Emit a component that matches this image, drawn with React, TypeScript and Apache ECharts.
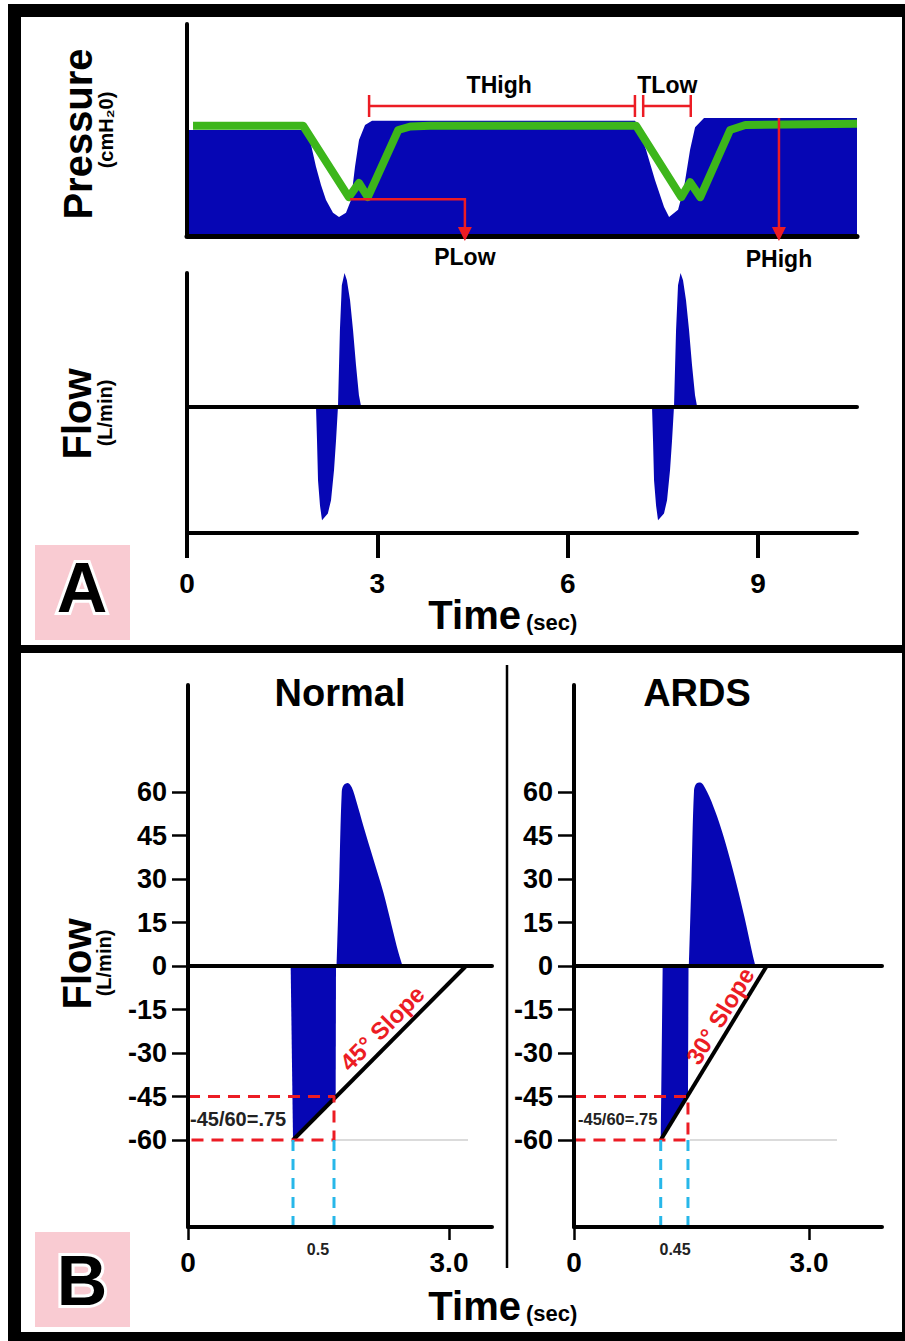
import React, { useEffect, useRef } from "react";
import * as echarts from "echarts";

const FONT = '"Liberation Sans", Arial, Helvetica, sans-serif';
const BLUE = "#0606b4";
const GREEN = "#3db61b";
const RED = "#ec1c24";
const CYAN = "#27b7e9";
const PINK = "#f9cbd2";

// ---------- Panel A data (time in sec) ----------
const timeTicksA = [0, 3, 6, 9];
const timeMaxA = 10.56;
const pressureMax = 30;
const flowMinA = -57;
const flowMaxA = 60;

const pressureBlue: number[][] = [
  [0, 15.0], [1.876, 15.0], [1.955, 12.9], [2.033, 9.8], [2.112, 7.2], [2.191, 5.1],
  [2.301, 3.3], [2.396, 2.7], [2.506, 3.3], [2.585, 5.1], [2.648, 9.8], [2.711, 13.6],
  [2.806, 15.7], [2.916, 16.3], [7.06, 16.3], [7.077, 16.1], [7.235, 12.2], [7.377, 7.9],
  [7.519, 4.1], [7.598, 2.7], [7.74, 3.7], [7.834, 6.9], [7.929, 12.2], [8.008, 15.4],
  [8.149, 16.7], [10.56, 16.7],
];

const pressureGreen: number[][] = [
  [0.095, 15.6], [1.83, 15.6], [2.55, 5.5], [2.71, 7.5], [2.85, 5.5], [3.33, 15.0],
  [3.52, 15.5], [3.83, 15.6], [7.08, 15.6], [7.79, 5.5], [7.93, 7.6], [8.09, 5.5],
  [8.56, 15.0], [8.8, 15.7], [10.56, 15.9],
];

const flowA: number[][] = [
  [0, 0], [2.033, 0], [2.049, -15.3], [2.065, -33.3], [2.096, -44.6], [2.128, -51.3],
  [2.22, -48.2], [2.27, -42.3], [2.317, -28.8], [2.349, -15.3], [2.38, 0], [2.41, 34.2],
  [2.44, 54.5], [2.483, 60], [2.52, 56.7], [2.57, 47.7], [2.617, 34.2], [2.664, 18.5],
  [2.71, 5], [2.743, 0], [7.329, 0], [7.345, -15.3], [7.361, -33.3], [7.393, -44.6],
  [7.424, -51.3], [7.518, -48.2], [7.566, -42.3], [7.613, -28.8], [7.645, -15.3],
  [7.676, 0], [7.708, 34.2], [7.739, 54.5], [7.779, 60], [7.818, 56.7], [7.865, 47.7],
  [7.913, 34.2], [7.96, 18.5], [8.007, 5], [8.039, 0], [10.56, 0],
];

// annotations panel A
const tHighSpan = [2.87, 7.06];
const tLowSpan = [7.19, 7.94];
const bracketLevel = 18.4;
const bracketTickTop = 19.95;
const bracketTickBottom = 16.84;
const tHighLabel = [4.92, 21.4];
const tLowLabel = [7.57, 21.4];
const pLowPath: number[][] = [[2.57, 5.2], [4.38, 5.2], [4.38, -0.7]];
const pHighPath: number[][] = [[9.33, 16.7], [9.33, -0.7]];

// ---------- Panel B data ----------
const flowTicksB = [-60, -45, -30, -15, 0, 15, 30, 45, 60];
const timeTicksB = [0, 3];
const flowMinB = -90;
const flowMaxB = 96.9;
const normalTimeMax = 3.494;
const ardsTimeMax = 3.932;

const normalNeg: number[][] = [[1.18, 0], [1.207, -60], [1.697, -45.2], [1.701, 0]];
const normalPos: number[][] = [
  [1.709, 0], [1.738, 30], [1.767, 59.9], [1.785, 62.2], [1.836, 63.1], [1.882, 61.6],
  [1.939, 56.4], [2.015, 48.4], [2.13, 36.9], [2.245, 25.4], [2.341, 13.9], [2.417, 4.8],
  [2.466, 0],
];
const normalSlope: number[][] = [[1.207, -60], [3.195, 0]];
const normalGray: number[][] = [[1.69, -60], [3.218, -60]];
const normalRed: number[][] = [[0, -45], [1.678, -45], [1.678, -60], [0, -60]];
const normalCyan = [1.207, 1.678];
const normalIntervalLabel = "0.5";
const normalIntervalAt = 1.494;
const normalSlopeLabel = { text: "45° Slope", at: [2.23, -21.4] };

const ardsNeg: number[][] = [[1.132, 0], [1.107, -60], [1.455, -44.6], [1.462, 0]];
const ardsPos: number[][] = [
  [1.468, 0], [1.5, 30], [1.532, 60.4], [1.558, 62.8], [1.609, 63.3], [1.7, 60.0],
  [1.8, 53.5], [1.9, 45.5], [2.0, 36.0], [2.1, 25.5], [2.2, 14.0], [2.28, 4.0],
  [2.317, 0],
];
const ardsSlope: number[][] = [[1.107, -60], [2.46, 0]];
const ardsGray: number[][] = [[1.481, -60], [3.357, -60]];
const ardsRed: number[][] = [[0, -45], [1.455, -45], [1.455, -60], [0, -60]];
const ardsCyan = [1.107, 1.455];
const ardsIntervalLabel = "0.45";
const ardsIntervalAt = 1.29;
const ardsSlopeLabel = { text: "30° Slope", at: [1.864, -17.2] };
const ratioText = "-45/60=.75";
const ratioAt = -52.8;

const bold = (size: number) => ({
  fontFamily: FONT,
  fontWeight: "bold" as const,
  fontSize: size,
  color: "#000",
});

function blackLine(w: number, onZero = false) {
  return { show: true, onZero, lineStyle: { color: "#000", width: w } };
}

function plainX(grid: number, max: number, w: number, onZero: boolean) {
  return {
    type: "value",
    gridIndex: grid,
    min: 0,
    max,
    z: 5,
    axisLine: blackLine(w, onZero),
    axisTick: { show: false },
    axisLabel: { show: false },
    splitLine: { show: false },
  };
}

function tickX(grid: number, max: number, ticks: number[], tickLen: number, tickW: number, margin: number, fmt: (v: number) => string) {
  return {
    type: "value",
    gridIndex: grid,
    position: "bottom",
    min: 0,
    max,
    z: 5,
    axisLine: blackLine(4, false),
    axisTick: { show: true, customValues: ticks, length: tickLen, lineStyle: { color: "#000", width: tickW } },
    axisLabel: { show: true, customValues: ticks, margin, verticalAlign: "middle", formatter: fmt, ...bold(28) },
    splitLine: { show: false },
  };
}

function plainY(grid: number, min: number, max: number) {
  return {
    type: "value",
    gridIndex: grid,
    min,
    max,
    z: 5,
    axisLine: blackLine(4, false),
    axisTick: { show: false },
    axisLabel: { show: false },
    splitLine: { show: false },
  };
}

function tickY(grid: number) {
  return {
    type: "value",
    gridIndex: grid,
    min: flowMinB,
    max: flowMaxB,
    z: 5,
    axisLine: blackLine(4, false),
    axisTick: { show: true, customValues: flowTicksB, length: 16, lineStyle: { color: "#000", width: 2.5 } },
    axisLabel: { show: true, customValues: flowTicksB, margin: 21, ...bold(27) },
    splitLine: { show: false },
  };
}

function area(data: number[][], xi: number, yi: number, smooth: number | boolean = false) {
  return {
    type: "line",
    xAxisIndex: xi,
    yAxisIndex: yi,
    data,
    smooth,
    symbol: "none",
    silent: true,
    z: 2,
    lineStyle: { width: 0, color: BLUE },
    areaStyle: { color: BLUE, opacity: 1 },
  };
}

function stroke(data: number[][], xi: number, yi: number, color: string, width: number, dash?: number[], z = 3) {
  return {
    type: "line",
    xAxisIndex: xi,
    yAxisIndex: yi,
    data,
    symbol: "none",
    silent: true,
    z,
    lineStyle: { width, color, type: dash ? dash : "solid", cap: "butt", join: "round" },
  };
}

function buildOption() {
  const fmtB = (v: number) => (v === 0 ? "0" : v.toFixed(1));
  const series: any[] = [
    area(pressureBlue, 0, 0),
    stroke(pressureGreen, 0, 0, GREEN, 8, undefined, 3),
    area(flowA, 1, 1),
    area(normalNeg, 3, 2),
    area(normalPos, 3, 2, 0.35),
    stroke(normalGray, 3, 2, "#cfcfcf", 1.5, undefined, 2),
    stroke(normalSlope, 3, 2, "#000", 4, undefined, 3),
    stroke(normalRed, 3, 2, RED, 3, [12, 8], 4),
    ...normalCyan.map((t) => stroke([[t, -60], [t, flowMinB]], 3, 2, CYAN, 3, [11, 8], 4)),
    area(ardsNeg, 5, 3),
    area(ardsPos, 5, 3, 0.35),
    stroke(ardsGray, 5, 3, "#cfcfcf", 1.5, undefined, 2),
    stroke(ardsSlope, 5, 3, "#000", 4, undefined, 3),
    stroke(ardsRed, 5, 3, RED, 3, [12, 8], 4),
    ...ardsCyan.map((t) => stroke([[t, -60], [t, flowMinB]], 5, 3, CYAN, 3, [11, 8], 4)),
  ];
  return {
    animation: false,
    grid: [
      { left: 187, top: 24, width: 670, height: 212 },
      { left: 187, top: 273, width: 670, height: 260 },
      { left: 188, top: 685, width: 304, height: 542 },
      { left: 574, top: 685, width: 308, height: 542 },
    ],
    xAxis: [
      plainX(0, timeMaxA, 5, false),
      plainX(1, timeMaxA, 4, true),
      tickX(1, timeMaxA, timeTicksA, 25, 4, 50, (v: number) => String(v)),
      plainX(2, normalTimeMax, 4, true),
      tickX(2, normalTimeMax, timeTicksB, 13, 2.5, 35, fmtB),
      plainX(3, ardsTimeMax, 4, true),
      tickX(3, ardsTimeMax, timeTicksB, 13, 2.5, 35, fmtB),
    ],
    yAxis: [
      plainY(0, 0, pressureMax),
      plainY(1, flowMinA, flowMaxA),
      tickY(2),
      tickY(3),
    ],
    series,
  };
}

function buildGraphic(chart: any) {
  const P = (xi: number, yi: number, p: number[]) =>
    chart.convertToPixel({ xAxisIndex: xi, yAxisIndex: yi }, p) as number[];
  const pA = (p: number[]) => P(0, 0, p);
  const pN = (p: number[]) => P(3, 2, p);
  const pR = (p: number[]) => P(5, 3, p);
  const els: any[] = [];
  const f = (size: number, w = "bold") => `${w} ${size}px ${FONT}`;

  const rect = (x: number, y: number, w: number, h: number, fill: string, z: number) =>
    els.push({ type: "rect", z, silent: true, shape: { x, y, width: w, height: h }, style: { fill } });
  const seg = (a: number[], b: number[], color: string, w: number, z = 10) =>
    els.push({
      type: "line", z, silent: true,
      shape: { x1: a[0], y1: a[1], x2: b[0], y2: b[1] },
      style: { stroke: color, lineWidth: w },
    });
  const txt = (x: number, y: number, s: string, font: string, o: any = {}) =>
    els.push({
      type: "text", z: 20, silent: true, x, y, rotation: o.rot || 0,
      style: {
        text: s, font, fill: o.fill || "#000",
        align: o.align || "center", textAlign: o.align || "center",
        verticalAlign: "middle", textVerticalAlign: "middle",
        stroke: o.stroke, lineWidth: o.lw || 0, strokeFirst: !!o.stroke,
      },
    });
  const arrowDown = (x: number, tipY: number) =>
    els.push({
      type: "polygon", z: 11, silent: true,
      shape: { points: [[x - 7, tipY - 14], [x + 7, tipY - 14], [x, tipY]] },
      style: { fill: RED },
    });

  // frame
  rect(8, 4, 897, 1337, "#000", -100);
  rect(21, 17, 881, 628, "#fff", -99);
  rect(21, 653, 881, 679, "#fff", -99);
  rect(35, 545, 95, 95, PINK, -98);
  rect(35, 1232, 95, 95, PINK, -98);

  // ----- Panel A -----
  txt(78, 134, "Pressure", f(40), { rot: Math.PI / 2 });
  txt(106, 130, "(cmH₂0)", f(20), { rot: Math.PI / 2 });
  txt(77, 414, "Flow", f(40), { rot: Math.PI / 2 });
  txt(105, 413, "(L/min)", f(20), { rot: Math.PI / 2 });
  txt(521, 615, "Time", f(40), { align: "right" });
  txt(526, 622, "(sec)", f(22), { align: "left" });
  txt(82, 588, "A", f(70), { stroke: "#fff", lw: 6 });

  // brackets
  const bracket = (span: number[]) => {
    seg(pA([span[0], bracketLevel]), pA([span[1], bracketLevel]), RED, 2.5);
    for (const t of span) seg(pA([t, bracketTickTop]), pA([t, bracketTickBottom]), RED, 2.5);
  };
  bracket(tHighSpan);
  bracket(tLowSpan);
  const th = pA(tHighLabel);
  txt(th[0], th[1], "THigh", f(23));
  const tl = pA(tLowLabel);
  txt(tl[0], tl[1], "TLow", f(23));

  // PLow
  const pl = pLowPath.map(pA);
  const plTip = pl[pl.length - 1];
  els.push({
    type: "polyline", z: 10, silent: true,
    shape: { points: [...pl.slice(0, -1), [plTip[0], plTip[1] - 12]] },
    style: { stroke: RED, lineWidth: 2.5, fill: null },
  });
  arrowDown(plTip[0], plTip[1]);
  txt(plTip[0], 257, "PLow", f(23));

  // PHigh
  const ph = pHighPath.map(pA);
  seg(ph[0], [ph[1][0], ph[1][1] - 12], RED, 2.5);
  arrowDown(ph[1][0], ph[1][1]);
  txt(ph[1][0], 259, "PHigh", f(23));

  // ----- Panel B -----
  txt(340, 693, "Normal", f(38));
  txt(697, 693, "ARDS", f(38));
  seg([507, 665], [507, 1268], "#000", 2.5, 10);
  txt(77, 964, "Flow", f(40), { rot: Math.PI / 2 });
  txt(104, 963, "(L/min)", f(20), { rot: Math.PI / 2 });
  txt(521, 1306, "Time", f(40), { align: "right" });
  txt(526, 1313, "(sec)", f(22), { align: "left" });
  txt(82, 1281, "B", f(70), { stroke: "#fff", lw: 6 });

  // Normal annotations
  const nr = pN([0, ratioAt]);
  txt(nr[0] + 2, nr[1], ratioText, f(20), { align: "left", fill: "#222" });
  const ni = pN([normalIntervalAt, flowMinB]);
  txt(ni[0], ni[1] + 22, normalIntervalLabel, f(16), { fill: "#222" });
  const ns = pN(normalSlopeLabel.at);
  const na = pN(normalSlope[0]);
  const nb = pN(normalSlope[1]);
  txt(ns[0], ns[1], normalSlopeLabel.text, f(24), {
    fill: RED, rot: Math.atan2(na[1] - nb[1], nb[0] - na[0]),
  });

  // ARDS annotations
  const ar = pR([0, ratioAt]);
  txt(ar[0] + 4, ar[1], ratioText, f(16.5), { align: "left", fill: "#222" });
  const ai = pR([ardsIntervalAt, flowMinB]);
  txt(ai[0], ai[1] + 22, ardsIntervalLabel, f(16), { fill: "#222" });
  const as = pR(ardsSlopeLabel.at);
  const aa = pR(ardsSlope[0]);
  const ab = pR(ardsSlope[1]);
  txt(as[0], as[1], ardsSlopeLabel.text, f(24), {
    fill: RED, rot: Math.atan2(aa[1] - ab[1], ab[0] - aa[0]),
  });

  return els;
}

export default function App() {
  const ref = useRef<HTMLDivElement>(null);
  useEffect(() => {
    const el = ref.current;
    if (!el) return;
    const chart = echarts.init(el, undefined, { renderer: "svg" });
    chart.setOption(buildOption() as any);
    chart.setOption({ graphic: { elements: buildGraphic(chart) } } as any);
    return () => chart.dispose();
  }, []);
  return (
    <div
      ref={ref}
      style={{ position: "absolute", left: 0, top: 0, width: 905, height: 1341 }}
    />
  );
}
